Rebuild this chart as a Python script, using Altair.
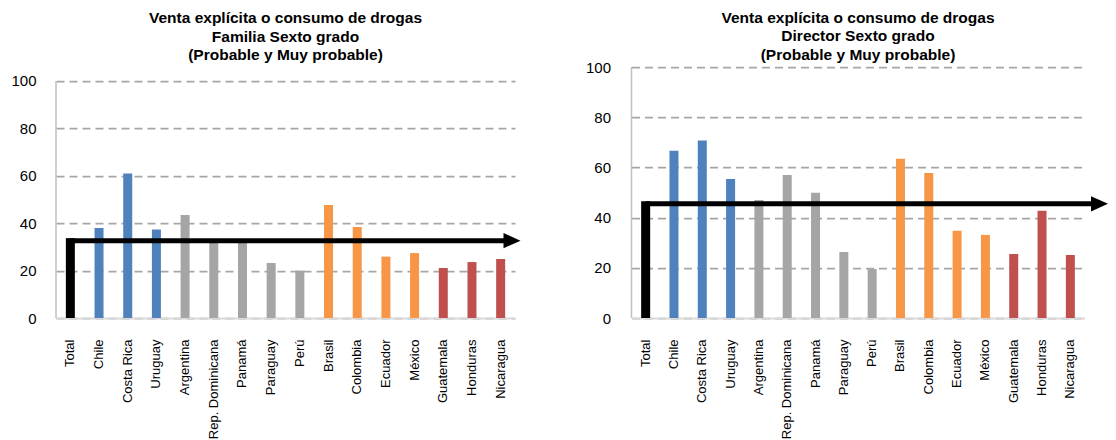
import altair as alt
import pandas as pd

categories = ["Total", "Chile", "Costa Rica", "Uruguay", "Argentina", "Rep. Dominicana",
              "Panamá", "Paraguay", "Perú", "Brasil", "Colombia", "Ecuador", "México",
              "Guatemala", "Honduras", "Nicaragua"]
groups = ["Total", "G1", "G1", "G1", "G2", "G2", "G2", "G2", "G2",
          "G3", "G3", "G3", "G3", "G4", "G4", "G4"]
familia = [33.7, 38.0, 61.0, 37.3, 43.5, 32.5, 32.5, 23.2, 20.0,
           47.7, 38.4, 25.9, 27.4, 21.1, 23.6, 24.9]
director = [46.5, 66.6, 70.7, 55.4, 47.0, 57.0, 49.9, 26.3, 19.5,
            63.4, 57.8, 34.8, 33.1, 25.5, 42.7, 25.1]
group_names = ["Total", "G1", "G2", "G3", "G4"]
group_colors = ["#000000", "#4F81BD", "#A5A5A5", "#F79646", "#C0504D"]
y_ticks = [0, 20, 40, 60, 80, 100]

title_left = ["Venta explícita o consumo de drogas", "Familia Sexto grado", "(Probable y Muy probable)"]
title_right = ["Venta explícita o consumo de drogas", "Director Sexto grado", "(Probable y Muy probable)"]

FONT = "Liberation Sans"
ARROW_HEAD = "M-1,-0.9L1,0L-1,0.9Z"


def panel(values, title_lines, width, height, y_max, head_x, y_label_pad, title_offset):
    df = pd.DataFrame({"pais": categories, "grupo": groups, "valor": values})
    total_df = pd.DataFrame({"pais": [categories[0]], "valor": [values[0]]})
    axis_df = pd.DataFrame({"lo": [y_ticks[0]], "hi": [y_ticks[-1]]})

    x_enc = alt.X("pais:N", sort=categories, title=None,
                  scale=alt.Scale(paddingInner=0, paddingOuter=0),
                  axis=alt.Axis(labelAngle=270, labelAlign="right", labelBaseline="middle",
                                labelPadding=21, ticks=False, domainColor="#D9D9D9",
                                domainWidth=2, labelFontSize=13, labelColor="#000000",
                                labelFont=FONT, grid=False))
    y_enc = alt.Y("valor:Q", title=None,
                  scale=alt.Scale(domain=[0, y_max], nice=False),
                  axis=alt.Axis(values=y_ticks, grid=True, gridDash=[8, 5],
                                gridColor="#A6A6A6", gridWidth=1.75,
                                domain=False, ticks=False,
                                labelPadding=y_label_pad, labelFontSize=15,
                                labelColor="#000000", labelFont=FONT))

    y_axis_line = alt.Chart(axis_df).mark_rule(color="#BFBFBF", strokeWidth=1.5).encode(
        x=alt.value(0),
        y=alt.Y("lo:Q"),
        y2=alt.Y2("hi:Q"),
    )
    bars = alt.Chart(df).mark_bar(size=9).encode(
        x=x_enc,
        y=y_enc,
        color=alt.Color("grupo:N", scale=alt.Scale(domain=group_names, range=group_colors),
                        legend=None),
    )
    line = alt.Chart(total_df).mark_rule(color="#000000", strokeWidth=5, yOffset=2.5).encode(
        x=alt.X("pais:N", sort=categories),
        x2=alt.value(head_x - 5),
        y=alt.Y("valor:Q"),
    )
    head = alt.Chart(total_df).mark_point(shape=ARROW_HEAD, filled=True, color="#000000",
                                          opacity=1, size=289, yOffset=2.5).encode(
        x=alt.value(head_x),
        y=alt.Y("valor:Q"),
    )
    return alt.layer(bars, y_axis_line, line, head).properties(
        width=width, height=height,
        title=alt.TitleParams(text=title_lines, fontSize=15.5, font=FONT, fontWeight="bold",
                              lineHeight=18.5, offset=title_offset, anchor="middle",
                              color="#000000"),
    )


left = panel(familia, title_left, 459, 251, 105.9, 456, 20, 3.5)
right = panel(director, title_right, 453, 251, 100, 468, 21, -3)

chart = alt.hconcat(left, right, spacing=63.5).properties(
    padding={"left": 2, "top": 2, "right": 0, "bottom": 0}
).configure_view(stroke=None)

chart.save("out.html", embed_options={"renderer": "svg", "actions": False})
